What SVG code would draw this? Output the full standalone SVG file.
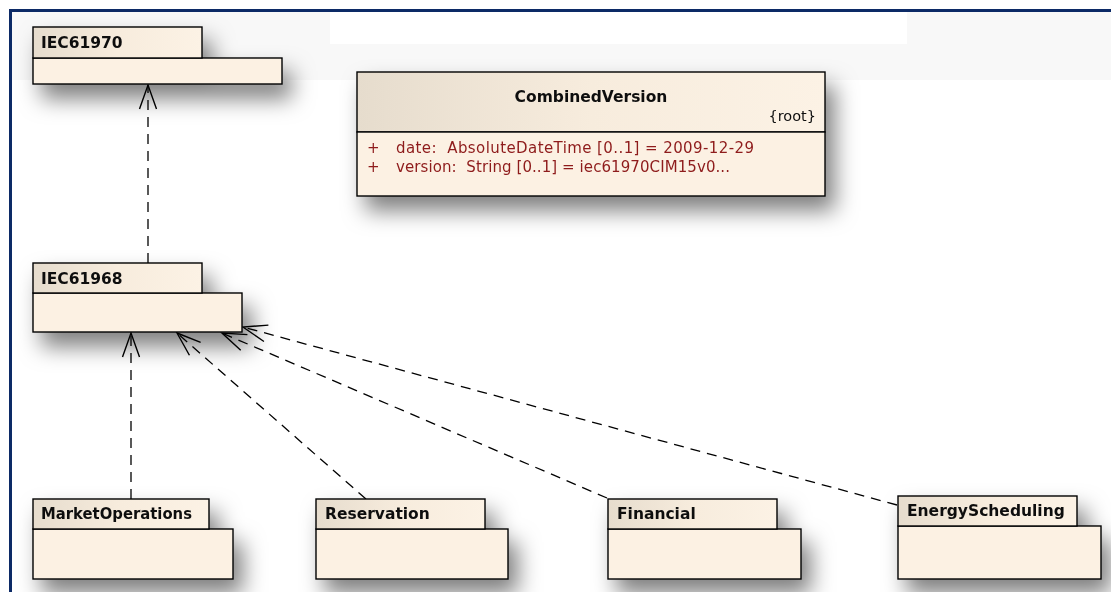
<svg xmlns="http://www.w3.org/2000/svg" width="1111" height="592" viewBox="0 0 1111 592">
<style>
.tab{stroke:#000;stroke-width:1.4;fill:url(#tabg)}
.body{stroke:#000;stroke-width:1.4;fill:#fcf1e3}
.pk{font-family:"DejaVu Sans",sans-serif;font-weight:bold;font-size:15.5px;fill:#111}
.conn{fill:none;stroke:#000;stroke-width:1.3;stroke-dasharray:10 7}
.attr{font-family:"DejaVu Sans",sans-serif;font-size:15px;fill:#8e1b1b;white-space:pre}
</style>
<defs>
<linearGradient id="tabg" x1="0" y1="0" x2="1" y2="0">
<stop offset="0" stop-color="#e6dccd"/>
<stop offset="0.5" stop-color="#f7ecdd"/>
<stop offset="1" stop-color="#fcf2e5"/>
</linearGradient>
<filter id="sh" x="-25%" y="-40%" width="160%" height="230%">
<feDropShadow dx="9" dy="14" stdDeviation="11" flood-color="#000" flood-opacity="0.5"/>
</filter>
<marker id="open" markerUnits="userSpaceOnUse" markerWidth="30" markerHeight="20" refX="0" refY="0" orient="auto" overflow="visible">
<path d="M-24,-8.5 L0,0 L-24,8.5" fill="none" stroke="#000" stroke-width="1.4"/>
</marker>
</defs>
<rect x="0" y="0" width="1111" height="592" fill="#ffffff"/>
<rect x="12" y="12" width="1099" height="68" fill="#f8f8f8"/>
<rect x="330" y="12" width="577" height="32" fill="#ffffff"/>
<path d="M10.5,592 L10.5,10.5 L1111,10.5" fill="none" stroke="#0c2a66" stroke-width="3"/>

<g id="connectors">
<path class="conn" d="M148,263 L148,85" marker-end="url(#open)"/>
<path class="conn" d="M131,499 L131,333" marker-end="url(#open)"/>
<path class="conn" d="M366,499 L177,333" marker-end="url(#open)"/>
<path class="conn" d="M607,498 L222,333" marker-end="url(#open)"/>
<path class="conn" d="M897,505 L243,327" marker-end="url(#open)"/>
</g>

<g id="IEC61970" filter="url(#sh)">
<rect class="body" x="33" y="58" width="249" height="26"/>
<rect class="tab" x="33" y="27" width="169" height="31"/>
<text class="pk" x="41" y="48">IEC61970</text>
</g>

<g id="IEC61968" filter="url(#sh)">
<rect class="body" x="33" y="293" width="209" height="39"/>
<rect class="tab" x="33" y="263" width="169" height="30"/>
<text class="pk" x="41" y="284">IEC61968</text>
</g>

<g id="CombinedVersion" filter="url(#sh)">
<rect x="357" y="72" width="468" height="60" fill="url(#tabg)" stroke="#000" stroke-width="1.4"/>
<rect x="357" y="132" width="468" height="64" fill="#fcf1e3" stroke="#000" stroke-width="1.4"/>
<text x="591" y="102" text-anchor="middle" font-family="DejaVu Sans, sans-serif" font-weight="bold" font-size="15.5" fill="#111">CombinedVersion</text>
<text x="816" y="121" text-anchor="end" font-family="DejaVu Sans, sans-serif" font-size="14.5" fill="#111">{root}</text>
<text class="attr" x="367" y="153">+</text>
<text class="attr" x="396" y="153" textLength="358" lengthAdjust="spacing" xml:space="preserve">date:  AbsoluteDateTime [0..1] = 2009-12-29</text>
<text class="attr" x="367" y="172">+</text>
<text class="attr" x="396" y="172" textLength="334" lengthAdjust="spacing" xml:space="preserve">version:  String [0..1] = iec61970CIM15v0...</text>
</g>

<g id="MarketOperations" filter="url(#sh)">
<rect class="body" x="33" y="529" width="200" height="50"/>
<rect class="tab" x="33" y="499" width="176" height="30"/>
<text class="pk" x="41" y="519" textLength="151" lengthAdjust="spacingAndGlyphs">MarketOperations</text>
</g>

<g id="Reservation" filter="url(#sh)">
<rect class="body" x="316" y="529" width="192" height="50"/>
<rect class="tab" x="316" y="499" width="169" height="30"/>
<text class="pk" x="325" y="519">Reservation</text>
</g>

<g id="Financial" filter="url(#sh)">
<rect class="body" x="608" y="529" width="193" height="50"/>
<rect class="tab" x="608" y="499" width="169" height="30"/>
<text class="pk" x="617" y="519">Financial</text>
</g>

<g id="EnergyScheduling" filter="url(#sh)">
<rect class="body" x="898" y="526" width="203" height="53"/>
<rect class="tab" x="898" y="496" width="179" height="30"/>
<text class="pk" x="907" y="516">EnergyScheduling</text>
</g>
</svg>
